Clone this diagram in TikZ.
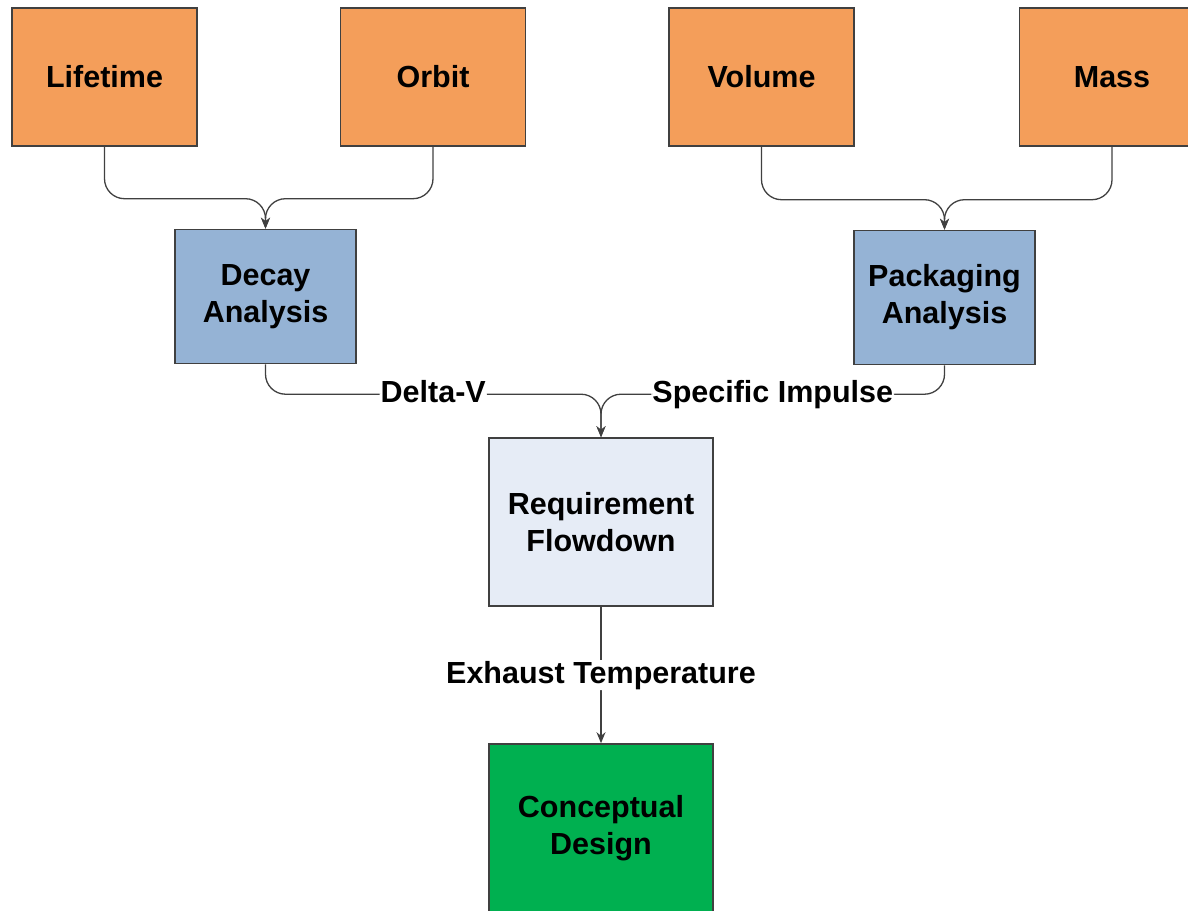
\documentclass[tikz,border=0pt]{standalone}
\usepackage{fontspec}
\setmainfont{Liberation Sans}
\usetikzlibrary{positioning, calc, arrows.meta}

\definecolor{inputorange}{RGB}{244,158,90}
\definecolor{analysisblue}{RGB}{149,179,213}
\definecolor{reqgray}{RGB}{230,236,246}
\definecolor{designgreen}{RGB}{0,176,80}
\definecolor{edgegray}{RGB}{64,64,64}

\tikzset{
	block/.style={draw=edgegray, line width=1.6pt, inner sep=0pt, align=center,
		font=\fontsize{30.5}{37}\selectfont\bfseries},
	inbox/.style={block, fill=inputorange, minimum width=185pt, minimum height=138pt},
	anbox/.style={block, fill=analysisblue, minimum width=181pt, minimum height=134pt},
	bigbox/.style={block, minimum width=224pt, minimum height=168pt},
	flow/.style={draw=edgegray, line width=1.3pt, rounded corners=20pt,
		-{Stealth[length=11pt, width=9pt]}},
	lbl/.style={fill=white, inner sep=1pt, text height=22pt, text depth=6pt,
		font=\fontsize{30.5}{37}\selectfont\bfseries}
}

\begin{document}
\begin{tikzpicture}[x=1pt, y=-1pt]
\useasboundingbox (0, 0) rectangle (1188, 910);
\clip (0, 0) rectangle (1188, 910);

% inputs
\node[inbox] (life) at (104.5, 77) {Lifetime};
\node[inbox] (orbit) at (433, 77) {Orbit};
\node[inbox] (vol) at (761.5, 77) {Volume};
\node[inbox] (mass) at (1112, 77) {Mass};

% analyses
\node[anbox] (decay) at (265.5, 296.5) {Decay\\Analysis};
\node[anbox] (pack) at (944.5, 297.5) {Packaging\\Analysis};

% flowdown and design
\node[bigbox, fill=reqgray] (req) at (601, 522) {Requirement\\Flowdown};
\node[bigbox, fill=designgreen] (concept) at (601, 828) {Conceptual\\Design};

\draw[flow] (life.south) |- ($(decay.north)+(0, -30)$) -- (decay.north);
\draw[flow] (orbit.south) |- ($(decay.north)+(0, -30)$) -- (decay.north);
\draw[flow] (vol.south) |- ($(pack.north)+(0, -30)$) -- (pack.north);
\draw[flow] (mass.south) |- ($(pack.north)+(0, -30)$) -- (pack.north);

\draw[flow] (decay.south) |- node[lbl, pos=0.75] {Delta-V} ($(req.north)+(0, -43)$) -- (req.north);
\draw[flow] (pack.south) |- node[lbl, pos=0.75] {Specific Impulse} ($(req.north)+(0, -43)$) -- (req.north);
\draw[flow] (req.south) -- node[lbl] {Exhaust Temperature} (concept.north);
\end{tikzpicture}
\end{document}
